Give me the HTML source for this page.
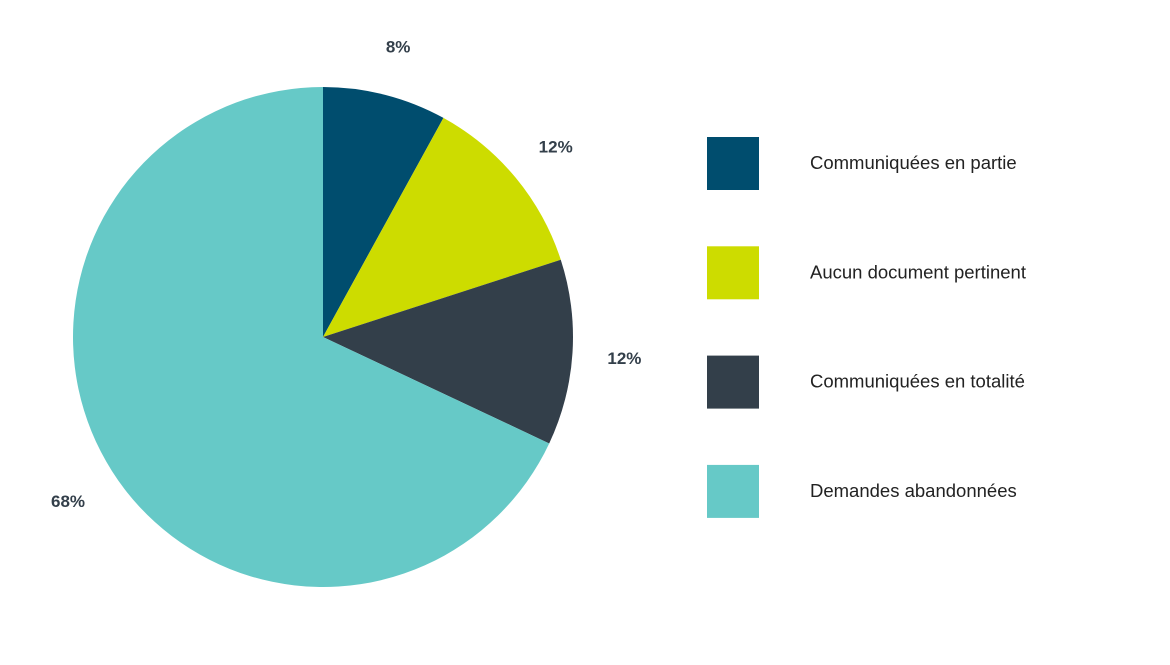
<!DOCTYPE html>
<html><head><meta charset="utf-8"><style>
body{margin:0;background:#fff;width:1170px;height:660px;overflow:hidden;font-family:"Liberation Sans",sans-serif}
</style></head><body>
<svg id="chart" width="1170" height="660" xmlns="http://www.w3.org/2000/svg"></svg>
<script>
const categories=["Communiquées en partie","Aucun document pertinent","Communiquées en totalité","Demandes abandonnées"];
const values=[8,12,12,68];
const valueLabels=["8%","12%","12%","68%"];
const colors=["#004d6e","#cddc00","#333f4a","#66c9c7"];
const svg=document.getElementById('chart');
const NS="http://www.w3.org/2000/svg";
const cx=323,cy=337,R=250,LR=302;
const total=values.reduce((a,b)=>a+b,0);
function pt(a,r){return [cx+r*Math.sin(a),cy-r*Math.cos(a)];}
let acc=0;
values.forEach((v,i)=>{
  const a0=acc/total*2*Math.PI;acc+=v;const a1=acc/total*2*Math.PI;
  const p0=pt(a0,R),p1=pt(a1,R);
  const large=(a1-a0)>Math.PI?1:0;
  const path=document.createElementNS(NS,'path');
  path.setAttribute('d',`M${cx},${cy}L${p0[0]},${p0[1]}A${R},${R} 0 ${large} 1 ${p1[0]},${p1[1]}Z`);
  path.setAttribute('fill',colors[i]);
  
  
  svg.appendChild(path);
  const m=(a0+a1)/2;const lp=pt(m,LR);
  const t=document.createElementNS(NS,'text');
  t.setAttribute('x',lp[0]);t.setAttribute('y',lp[1]+8);
  t.setAttribute('text-anchor','middle');t.setAttribute('font-size','17');
  t.setAttribute('font-weight','bold');t.setAttribute('fill','#333f4a');
  t.textContent=valueLabels[i];
  
  
  svg.appendChild(t);
  const ly=137+i*109.3;
  const sw=document.createElementNS(NS,'rect');
  sw.setAttribute('x',707);sw.setAttribute('y',ly);sw.setAttribute('width',52);sw.setAttribute('height',53);
  sw.setAttribute('fill',colors[i]);
  
  
  svg.appendChild(sw);
  const lt=document.createElementNS(NS,'text');
  lt.setAttribute('x',810);lt.setAttribute('y',ly+32);
  lt.setAttribute('font-size','18.5');lt.setAttribute('fill','#222');
  lt.textContent=categories[i];
  
  
  svg.appendChild(lt);
});
</script>
</body></html>
